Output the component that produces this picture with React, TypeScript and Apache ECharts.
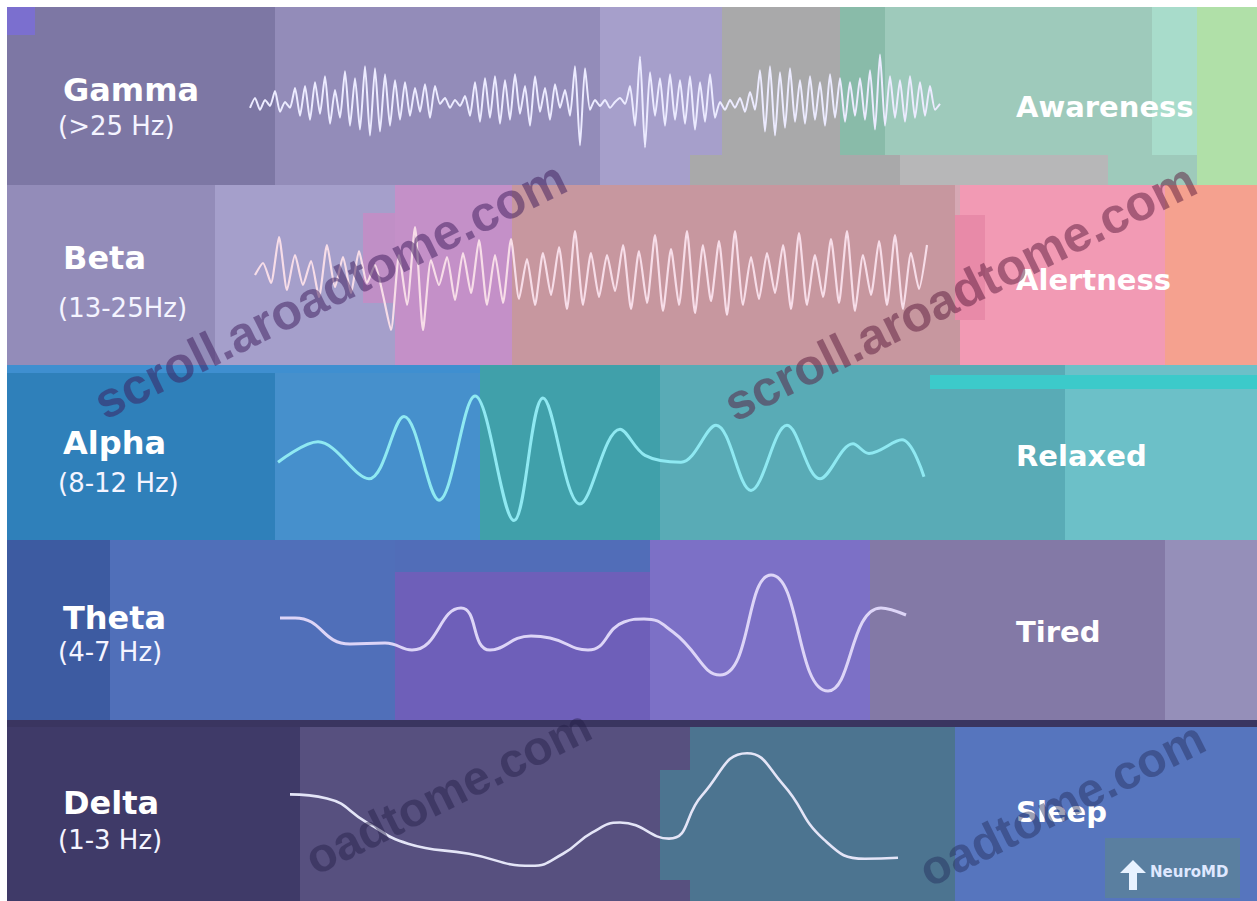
import React, { useEffect, useRef } from "react";
import * as echarts from "echarts";

// ---- data ----
const bands = ["Gamma", "Beta", "Alpha", "Theta", "Delta"];
const ranges = ["(>25 Hz)", "(13-25Hz)", "(8-12 Hz)", "(4-7 Hz)", "(1-3 Hz)"];
const states = ["Awareness", "Alertness", "Relaxed", "Tired", "Sleep"];

// gamma: amplitude samples every 5 ms
const gammaValues = [
  -12, -2, -14, -4, -10, 5, -16, -6, -12, 8,
  -20, 10, -24, 14, -18, 20, -28, 6, -22, 25, -30, 18,
  -34, 30, -40, 28, -36, 22, -30, 16,
  -24, 14, -20, 8, -16, 12, -22, 10,
  -8, -2, -12, -4, -10, 0,
  -20, 14, -26, 18, -22, 20, -28, 16, -24, 22,
  -18, 10, -30, 20, -16, 8, -24, 12,
  -12, 6, -20, 30, -50, 28, -14, -4,
  -10, -4, -12, -6, -2, -8,
  10, -30, 40, -52, 24, -20,
  18, -30, 22, -24, 16, -28, 20, -34, 14, -26, 22, -22,
  -6, -14, -4, -12, -2, -16, 4, -14,
  26, -36, 30, -40, 24, -32, 28, -26,
  16, -28, 20, -24, 14, -30, 22, -22, 18, -26, 14, -20, 18, -24,
  26, -34, 42, -30, 20, -22,
  16, -26, 20, -22, 14, -20, 10, -14, -8,
];
const gammaStep = 5;
const gammaStart = 0;

// beta: amplitude samples every 8 ms
const betaValues = [
  0, 12, -8, 38, -15, 20,
  -10, 14, -22, 30, -12,
  18, -18, 24, -8, 10, -20,
  -55, 20, -30, 48, -55,
  15, -10, 18, -25, 22, -18, 35,
  -30, 20, -28, 36, -24, 16, -30,
  22, -20, 28, -34, 44, -30, 22,
  -22, 20, -16, 30, -34, 24, -28,
  40, -36, 26, -30, 44, -38, 30,
  -26, 34, -40, 44, -30, 18, -24,
  22, -18, 30, -34, 42, -30, 20,
  -22, 36, -28, 44, -36, 20, -20,
  34, -30, 40, -34, 22, -14, 30,
];
const betaStep = 8;
const betaStart = 5;

const alphaTime = [28, 68, 119, 154, 189, 225, 264, 293, 330, 370, 395, 431, 466, 501, 537, 570, 603, 619, 652, 674];
const alphaAmp = [-10, 11, -27, 37, -49, 58, -70, 56, -53, 24, -3, -10, 28, -39, 28, -27, 9, -1, 13, -25];

const thetaTime = [30, 45, 100, 135, 162, 211, 240, 281, 300, 338, 374, 394, 423, 470, 521, 578, 631, 656];
const thetaAmp = [12, 12, -14, -13, -20, 22, -20, -6, -8, -20, 8, 11, -2, -45, 55, -61, 22, 15];

const deltaTime = [40, 77, 117, 158, 219, 281, 313, 342, 370, 419, 452, 497, 533, 574, 615, 648];
const deltaAmp = [16, 12, -12, -33, -43, -55, -43, -22, -12, -28, 15, 57, 26, -29, -48, -47];

// ---- layout / style ----
const bandTops = [7, 185, 365, 540, 720];
const bandHeights = [178, 180, 175, 180, 181];
const lineColors = ["#ecebff", "#f7dde8", "#8fe9f2", "#ddd5f7", "#e4e5f7"];
const lineWidths = [2, 2.2, 3, 3, 2.6];

type Block = [number, number, number, number, string];
const blocks: Block[] = [
  // gamma
  [7, 7, 268, 178, "#7d77a4"],
  [7, 7, 28, 28, "#7b6fcf"],
  [275, 7, 325, 178, "#938cb9"],
  [600, 7, 122, 178, "#a69fcb"],
  [722, 7, 120, 178, "#a9a9aa"],
  [690, 155, 210, 30, "#a9a9aa"],
  [900, 155, 208, 30, "#b7b7b8"],
  [840, 7, 45, 148, "#89bba9"],
  [885, 7, 312, 148, "#9ecabb"],
  [1108, 155, 89, 30, "#9ecabb"],
  [1152, 7, 45, 148, "#a8dccb"],
  [1197, 7, 60, 178, "#b0e0a8"],
  // beta
  [7, 185, 208, 180, "#938cb9"],
  [215, 185, 180, 180, "#a59fcb"],
  [363, 213, 32, 90, "#c08fc6"],
  [395, 185, 117, 180, "#c490c8"],
  [512, 185, 448, 180, "#c7979f"],
  [955, 185, 45, 30, "#d6a8b4"],
  [960, 185, 205, 180, "#f29ab4"],
  [955, 215, 30, 105, "#e88aa8"],
  [1165, 185, 92, 180, "#f5a18f"],
  // alpha
  [7, 365, 268, 175, "#2f80ba"],
  [275, 365, 205, 175, "#4690cc"],
  [480, 365, 180, 175, "#40a0aa"],
  [660, 365, 405, 175, "#59abb6"],
  [1065, 365, 192, 175, "#6cc0c8"],
  [7, 365, 473, 8, "#3f8fd0"],
  [930, 375, 327, 14, "#3ccaca"],
  // theta
  [7, 540, 103, 180, "#3d5ba1"],
  [110, 540, 285, 180, "#506fb9"],
  [395, 572, 255, 148, "#6e5fb9"],
  [395, 540, 255, 32, "#516db8"],
  [650, 540, 220, 180, "#7c70c6"],
  [870, 540, 295, 180, "#8379a6"],
  [1165, 540, 92, 180, "#958fb9"],
  // delta
  [7, 720, 293, 181, "#3f3a68"],
  [300, 720, 390, 181, "#57507f"],
  [660, 770, 30, 110, "#4c7490"],
  [690, 720, 265, 181, "#4c7490"],
  [955, 720, 302, 181, "#5675be"],
  [1105, 838, 135, 60, "#5a7fa0"],
  [7, 720, 1250, 7, "#3a3560"],
];

type Mark = [number, number, string, string, number];
const watermarks: Mark[] = [
  [330, 290, "rgba(60,25,90,0.5)", "scroll.aroadtome.com", 50],
  [960, 292, "rgba(90,25,60,0.5)", "scroll.aroadtome.com", 50],
  [448, 792, "rgba(35,28,70,0.45)", "oadtome.com", 48],
  [1062, 804, "rgba(35,45,90,0.45)", "oadtome.com", 48],
];

const labelY = [
  [90, 126],
  [258, 308],
  [443, 483],
  [618, 652],
  [803, 840],
];
const stateY = [107, 280, 456, 632, 812];

export default function App() {
  const ref = useRef<HTMLDivElement>(null);
  useEffect(() => {
    document.body.style.margin = "0";
    const chart = echarts.init(ref.current!, undefined, { renderer: "svg" });

    const grids = bandTops.map((t, i) => ({
      left: 250,
      width: 700,
      top: t,
      height: bandHeights[i],
    }));
    const xAxes = bandTops.map((_, i) => ({
      type: "value",
      gridIndex: i,
      min: 0,
      max: 700,
      show: false,
    }));
    const yAxes = bandTops.map((_, i) => ({
      type: "value",
      gridIndex: i,
      min: -90,
      max: 90,
      show: false,
    }));

    const seriesData = [
      gammaValues.map((v, i) => [gammaStart + i * gammaStep, v]),
      betaValues.map((v, i) => [betaStart + i * betaStep, v]),
      alphaTime.map((t, i) => [t, alphaAmp[i]]),
      thetaTime.map((t, i) => [t, thetaAmp[i]]),
      deltaTime.map((t, i) => [t, deltaAmp[i]]),
    ];
    const smooth = [0.2, 0.2, 0.35, 0.5, 0.5];

    const series = seriesData.map((d, i) => ({
      type: "line",
      name: bands[i],
      xAxisIndex: i,
      yAxisIndex: i,
      data: d,
      smooth: smooth[i],
      showSymbol: false,
      symbol: "none",
      lineStyle: { color: lineColors[i], width: lineWidths[i] },
      z: 5,
    }));

    const graphics: any[] = [];
    blocks.forEach(([x, y, w, h, c]) =>
      graphics.push({ type: "rect", shape: { x, y, width: w, height: h }, style: { fill: c }, z: -10, silent: true })
    );
    watermarks.forEach(([x, y, c, t, fs]) =>
      graphics.push({
        type: "text",
        x,
        y,
        rotation: 0.46,
        z: 20,
        silent: true,
        style: {
          text: t,
          fill: c,
          font: `bold ${fs}px 'Liberation Sans', sans-serif`,
          align: "center",
          verticalAlign: "middle",
        },
      })
    );
    bands.forEach((b, i) => {
      graphics.push({
        type: "text",
        x: 63,
        y: labelY[i][0],
        z: 10,
        style: {
          text: b,
          fill: "#ffffff",
          font: "bold 32px 'DejaVu Sans', sans-serif",
          verticalAlign: "middle",
        },
      });
      graphics.push({
        type: "text",
        x: 58,
        y: labelY[i][1],
        z: 10,
        style: {
          text: ranges[i],
          fill: "#f4f4ff",
          font: "26px 'DejaVu Sans', sans-serif",
          verticalAlign: "middle",
        },
      });
      graphics.push({
        type: "text",
        x: 1016,
        y: stateY[i],
        z: 10,
        style: {
          text: states[i],
          fill: "#ffffff",
          font: "bold 29px 'DejaVu Sans', sans-serif",
          verticalAlign: "middle",
        },
      });
    });
    // logo
    graphics.push({
      type: "polygon",
      z: 10,
      shape: {
        points: [
          [1133, 860], [1120, 873], [1129, 873], [1129, 890], [1137, 890], [1137, 873], [1146, 873],
        ],
      },
      style: { fill: "#e8f2ff" },
    });
    graphics.push({
      type: "text",
      x: 1150,
      y: 872,
      z: 10,
      style: { text: "NeuroMD", fill: "#dfe8ff", font: "bold 15px 'DejaVu Sans', sans-serif", verticalAlign: "middle" },
    });

    chart.setOption({
      animation: false,
      backgroundColor: "#ffffff",
      grid: grids,
      xAxis: xAxes,
      yAxis: yAxes,
      series,
      graphic: graphics,
    });
    return () => chart.dispose();
  }, []);
  return <div ref={ref} style={{ width: 1257, height: 901 }} />;
}
